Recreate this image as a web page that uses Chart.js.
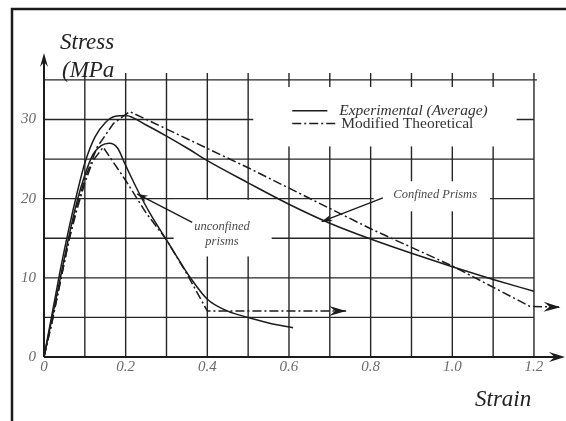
<!DOCTYPE html>
<html><head><meta charset="utf-8">
<script src="https://cdn.jsdelivr.net/npm/chart.js@4.4.0/dist/chart.umd.min.js"></script>
<style>html,body{margin:0;padding:0;background:#fff}canvas{display:block}</style>
</head><body>
<canvas id="c" width="566" height="421"></canvas>
<script>
// ---- data (strain, stress in MPa) ----
const confinedExpX   = [0,0.02,0.04,0.06,0.08,0.10,0.125,0.15,0.175,0.20,0.25,0.30,0.35,0.40,0.50,0.60,0.70,0.80,0.90,1.00,1.10,1.20];
const confinedExpY   = [0,5.5,11,16,20.5,24.5,27.8,29.6,30.4,30.5,29.3,27.9,26.4,24.8,22.0,19.3,16.9,14.9,13.1,11.4,9.8,8.3];
const confinedTheoX  = [0,0.02,0.04,0.06,0.08,0.10,0.13,0.17,0.21,0.50,0.80,1.00,1.19,1.265];
const confinedTheoY  = [0,4.5,9.5,14.5,19,22.5,26.5,29.5,31,23.9,16.2,11.5,6.4,6.3];
const unconfinedExpX = [0,0.02,0.04,0.06,0.08,0.10,0.12,0.14,0.16,0.18,0.20,0.23,0.26,0.30,0.33,0.36,0.40,0.45,0.50,0.55,0.61];
const unconfinedExpY = [0,5,10,15,19.5,23,25.6,26.7,27,26.4,24.2,21.0,18.1,14.8,12.3,9.9,7.3,5.8,5.0,4.3,3.7];
const unconfinedTheoX= [0,0.02,0.04,0.06,0.08,0.10,0.12,0.145,0.20,0.25,0.30,0.35,0.40,0.74];
const unconfinedTheoY= [0,4.5,9.5,14.5,18.5,22,24.8,26.5,22.3,18.2,14.8,10.5,5.8,5.8];

const xTickValues = [0,0.2,0.4,0.6,0.8,1.0,1.2];
const xTickLabels = ['0','0.2','0.4','0.6','0.8','1.0','1.2'];
const yTickValues = [0,10,20,30];
const yTickLabels = ['0','10','20','30'];
const xGridValues = [0,0.1,0.2,0.3,0.4,0.5,0.6,0.7,0.8,0.9,1.0,1.1,1.2];
const yGridValues = [0,5,10,15,20,25,30,35];

const legendLabels = ['Experimental (Average)','Modified Theoretical'];
const yAxisTitle = ['Stress','(MPa'];
const xAxisTitle = 'Strain';
const unconfinedLabel = ['unconfined','prisms'];
const confinedLabel = 'Confined Prisms';
const unconfinedPointer = [[0.363,17.0],[0.228,20.6]];
const confinedPointer = [[0.83,20.1],[0.68,17.1]];

const pts = (xs,ys)=>xs.map((x,i)=>({x:x,y:ys[i]}));
const INK = '#1c1c1c';
const DASHDOT = [9,3,2,3];

function arrowHead(ctx,x1,y1,x2,y2,len,half){
  const a=Math.atan2(y2-y1,x2-x1);
  ctx.save(); ctx.translate(x2,y2); ctx.rotate(a);
  ctx.beginPath(); ctx.moveTo(0,0); ctx.lineTo(-len,half); ctx.lineTo(-len*0.65,0); ctx.lineTo(-len,-half); ctx.closePath();
  ctx.fillStyle=INK; ctx.fill(); ctx.restore();
}

const decor = {
  id:'decor',
  beforeDatasetsDraw(c){
    const ctx=c.ctx, X=c.scales.x, Y=c.scales.y;
    const px=v=>X.getPixelForValue(v), py=v=>Y.getPixelForValue(v);
    ctx.save();
    ctx.strokeStyle='#262626'; ctx.lineWidth=1.4; ctx.setLineDash([]);
    xGridValues.forEach(v=>{ctx.beginPath();ctx.moveTo(px(v),py(0));ctx.lineTo(px(v),py(35)-7);ctx.stroke();});
    yGridValues.forEach(v=>{ctx.beginPath();ctx.moveTo(px(0),py(v));ctx.lineTo(px(1.2)+(v===35?3:0),py(v));ctx.stroke();});
    // gaps in the grid behind the texts
    ctx.fillStyle='#fff';
    [[0.51,1.16,26.6,34.1],[0.315,0.56,12.7,19.85],[0.805,1.095,18.4,22.2]].forEach(b=>{
      ctx.fillRect(px(b[0])+1,py(b[3]),px(b[1])-px(b[0])-2,py(b[2])-py(b[3]));
    });
    // axes with arrows
    ctx.strokeStyle=INK; ctx.lineWidth=2;
    ctx.beginPath();ctx.moveTo(px(0),py(0));ctx.lineTo(X.right-4,py(0));ctx.stroke();
    ctx.beginPath();ctx.moveTo(px(0),py(0));ctx.lineTo(px(0),Y.top+4);ctx.stroke();
    arrowHead(ctx,px(0),py(0),X.right,py(0),16,5);
    arrowHead(ctx,px(0),py(0),px(0),Y.top,14,4);
    ctx.restore();
  },
  afterDatasetsDraw(c){
    const ctx=c.ctx, X=c.scales.x, Y=c.scales.y;
    const px=v=>X.getPixelForValue(v), py=v=>Y.getPixelForValue(v);
    ctx.save();
    // arrow heads at the ends of the theoretical curves
    [[confinedTheoX,confinedTheoY],[unconfinedTheoX,unconfinedTheoY]].forEach(s=>{
      const n=s[0].length;
      arrowHead(ctx,px(s[0][n-2]),py(s[1][n-2]),px(s[0][n-1]),py(s[1][n-1]),17,5);
    });
    // pointers
    ctx.strokeStyle=INK; ctx.lineWidth=1.4; ctx.setLineDash([]);
    [unconfinedPointer,confinedPointer].forEach(p=>{
      const x1=px(p[0][0]),y1=py(p[0][1]),x2=px(p[1][0]),y2=py(p[1][1]);
      ctx.beginPath();ctx.moveTo(x1,y1);ctx.lineTo(x2,y2);ctx.stroke();
      arrowHead(ctx,x1,y1,x2,y2,11,3.5);
    });
    // annotation texts
    ctx.fillStyle='#4a4a4a'; ctx.textAlign='center'; ctx.textBaseline='middle';
    ctx.font='italic 12.5px "Liberation Serif", serif';
    ctx.fillText(unconfinedLabel[0],px(0.436),py(16.4));
    ctx.fillText(unconfinedLabel[1],px(0.436),py(14.5));
    ctx.fillText(confinedLabel,px(0.958),py(20.5));
    // legend
    ctx.strokeStyle=INK; ctx.lineWidth=1.5;
    ctx.beginPath();ctx.moveTo(px(0.608),py(31.1));ctx.lineTo(px(0.694),py(31.1));ctx.stroke();
    ctx.setLineDash(DASHDOT);
    ctx.beginPath();ctx.moveTo(px(0.608),py(29.5));ctx.lineTo(px(0.718),py(29.5));ctx.stroke();
    ctx.setLineDash([]);
    ctx.textAlign='left'; ctx.fillStyle='#333';
    ctx.font='italic 15.5px "Liberation Serif", serif';
    ctx.fillText(legendLabels[0],px(0.723),py(31.1));
    ctx.font='15.5px "Liberation Serif", serif';
    ctx.fillText(legendLabels[1],px(0.728),py(29.5));
    // axis titles
    ctx.fillStyle='#222';
    ctx.font='italic 23px "Liberation Serif", serif';
    ctx.fillText(yAxisTitle[0],60,43);
    ctx.fillText(yAxisTitle[1],62,71);
    ctx.fillText(xAxisTitle,475,400);
    // frame
    ctx.strokeStyle='#1a1a1a'; ctx.lineWidth=2.5;
    ctx.beginPath();ctx.moveTo(566,9);ctx.lineTo(12,9);ctx.lineTo(12,421);ctx.stroke();
    ctx.restore();
  }
};

const lineDs=(label,data,dash,smooth)=>({label,data,borderColor:INK,borderWidth:1.5,borderDash:dash,
  pointRadius:0,showLine:true,fill:false,tension:0,cubicInterpolationMode:smooth?'monotone':'default'});

new Chart(document.getElementById('c'),{
  type:'scatter',
  data:{datasets:[
    lineDs('Confined experimental',pts(confinedExpX,confinedExpY),[],true),
    lineDs('Confined theoretical',pts(confinedTheoX,confinedTheoY),DASHDOT,false),
    lineDs('Unconfined experimental',pts(unconfinedExpX,unconfinedExpY),[],true),
    lineDs('Unconfined theoretical',pts(unconfinedTheoX,unconfinedTheoY),DASHDOT,false)
  ]},
  options:{
    responsive:false,animation:false,devicePixelRatio:1,
    layout:{padding:{top:53,left:0,right:1,bottom:0}},
    plugins:{legend:{display:false},tooltip:{enabled:false}},
    scales:{
      x:{type:'linear',min:0,max:1.276,grid:{display:false,drawTicks:false},border:{display:false},
        afterBuildTicks:s=>{s.ticks=xTickValues.map(v=>({value:v}));},
        afterFit:s=>{s.height=64;},
        ticks:{padding:1,maxRotation:0,autoSkip:false,color:'#6a6a6a',font:{family:'"Liberation Serif", serif',style:'italic',size:15},
          callback:(v,i)=>xTickLabels[i]}},
      y:{type:'linear',min:0,max:38.4,grid:{display:false,drawTicks:false},border:{display:false},
        afterBuildTicks:s=>{s.ticks=yTickValues.map(v=>({value:v}));},
        afterFit:s=>{s.width=44;},
        ticks:{padding:8,autoSkip:false,color:'#6a6a6a',font:{family:'"Liberation Serif", serif',style:'italic',size:15},
          callback:(v,i)=>yTickLabels[i]}}
    }
  },
  plugins:[decor]
});
</script>
</body></html>
